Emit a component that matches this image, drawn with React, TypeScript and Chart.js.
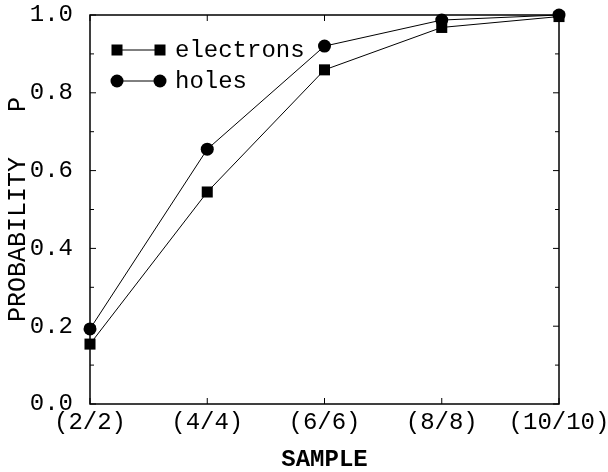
import React, { useEffect, useRef } from "react";
import { Chart, registerables } from "chart.js";

Chart.register(...registerables);

const categories = ["(2/2)", "(4/4)", "(6/6)", "(8/8)", "(10/10)"];
const electrons = [0.154, 0.545, 0.859, 0.968, 0.996];
const holes = [0.193, 0.655, 0.92, 0.987, 1.0];
const yTickStep = 0.2;
const yMinorStep = 0.1;

const FONT = "'Liberation Mono', 'Courier New', monospace";

// Frame, inward tick marks on all four sides, and the marker-line-marker legend.
const framePlugin = {
  id: "frameTicksLegend",
  afterDatasetsDraw(chart: any) {
    const { ctx, chartArea } = chart;
    const { left, right, top, bottom } = chartArea;
    const xs = chart.scales.x;
    const ys = chart.scales.y;
    ctx.save();
    ctx.strokeStyle = "#000";
    ctx.lineWidth = 1.5;
    ctx.strokeRect(left, top, right - left, bottom - top);

    ctx.lineWidth = 1;
    ctx.beginPath();
    for (let i = 0; i < categories.length; i++) {
      const px = xs.getPixelForValue(i);
      ctx.moveTo(px, bottom);
      ctx.lineTo(px, bottom - 6);
      ctx.moveTo(px, top);
      ctx.lineTo(px, top + 6);
    }
    const n = Math.round((ys.max - ys.min) / yMinorStep);
    for (let k = 0; k <= n; k++) {
      const v = ys.min + k * yMinorStep;
      const py = ys.getPixelForValue(v);
      const major = Math.abs(v / yTickStep - Math.round(v / yTickStep)) < 1e-6;
      const len = major ? 6 : 4;
      ctx.moveTo(left, py);
      ctx.lineTo(left + len, py);
      ctx.moveTo(right, py);
      ctx.lineTo(right - len, py);
    }
    ctx.stroke();

    // legend
    const rows = chart.data.datasets;
    rows.forEach((ds: any, i: number) => {
      const y = top + 35 + i * 31;
      const x1 = left + 27;
      const x2 = left + 70;
      ctx.strokeStyle = "#000";
      ctx.fillStyle = "#000";
      ctx.lineWidth = 1;
      ctx.beginPath();
      ctx.moveTo(x1, y);
      ctx.lineTo(x2, y);
      ctx.stroke();
      [x1, x2].forEach((x) => {
        if (ds.pointStyle === "rect") {
          ctx.fillRect(x - 5.5, y - 5.5, 11, 11);
        } else {
          ctx.beginPath();
          ctx.arc(x, y, 6.5, 0, Math.PI * 2);
          ctx.fill();
        }
      });
      ctx.font = `24px ${FONT}`;
      ctx.textBaseline = "middle";
      ctx.textAlign = "left";
      ctx.fillText(ds.label, left + 85, y + 1);
    });
    ctx.restore();
  },
};

export default function App() {
  const ref = useRef<HTMLCanvasElement>(null);

  useEffect(() => {
    if (!ref.current) return;
    const chart = new Chart(ref.current, {
      type: "line",
      data: {
        labels: categories,
        datasets: [
          {
            label: "electrons",
            data: electrons,
            borderColor: "#000",
            backgroundColor: "#000",
            borderWidth: 1,
            pointStyle: "rect",
            pointRadius: 7.8,
            pointBorderWidth: 0,
            clip: false as any,
          },
          {
            label: "holes",
            data: holes,
            borderColor: "#000",
            backgroundColor: "#000",
            borderWidth: 1,
            pointStyle: "circle",
            pointRadius: 6.5,
            pointBorderWidth: 0,
            clip: false as any,
          },
        ],
      },
      options: {
        animation: false,
        responsive: false,
        layout: { padding: { left: 0, right: 49, top: 15, bottom: 0 } },
        plugins: { legend: { display: false }, tooltip: { enabled: false } },
        scales: {
          x: {
            type: "category",
            offset: false,
            grid: { display: false, drawTicks: false },
            border: { display: false },
            ticks: {
              color: "#000",
              font: { family: FONT, size: 24 },
              padding: 4,
              maxRotation: 0,
              autoSkip: false,
            },
            title: {
              display: true,
              text: "SAMPLE",
              color: "#000",
              font: { family: FONT, size: 24, weight: "bold", lineHeight: 1 },
              padding: { top: 0, bottom: 0 },
            },
            afterFit: (s: any) => {
              s.height = 68;
              s.paddingLeft = 0;
              s.paddingRight = 0;
            },
          },
          y: {
            min: 0,
            max: 1,
            grid: { display: false, drawTicks: false },
            border: { display: false },
            ticks: {
              stepSize: yTickStep,
              color: "#000",
              font: { family: FONT, size: 24 },
              padding: 17,
              callback: (v: any) => Number(v).toFixed(1),
            },
            title: {
              display: true,
              text: "PROBABILITY   P",
              color: "#000",
              font: { family: FONT, size: 25, lineHeight: 1.2 },
              padding: { top: 3, bottom: 0 },
            },
            afterFit: (s: any) => {
              s.width = 90;
              s.paddingTop = 0;
              s.paddingBottom = 0;
            },
          },
        },
      },
      plugins: [framePlugin],
    });
    return () => chart.destroy();
  }, []);

  return (
    <div style={{ position: "fixed", left: 0, top: 0, width: 608, height: 472, background: "#fff" }}>
      <canvas ref={ref} width={608} height={472} />
    </div>
  );
}
